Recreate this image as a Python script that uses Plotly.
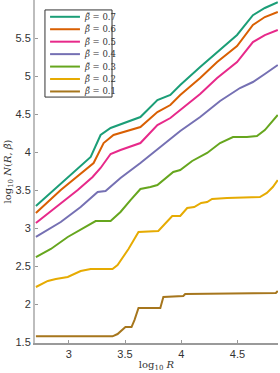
import plotly.graph_objects as go

# ---- data (log10 R , log10 N(R, beta)) ----
beta_labels = ["0.7", "0.6", "0.5", "0.4", "0.3", "0.2", "0.1"]
colors = ["#1b9e77", "#d95f02", "#e7298a", "#7570b3", "#66a61e", "#e6ab02", "#a6761d"]

x_b07 = [2.708, 2.867, 3.018, 3.195, 3.283, 3.372, 3.637, 3.788, 3.903, 3.991, 4.168, 4.319, 4.496, 4.637, 4.743, 4.858]
y_b07 = [3.289, 3.500, 3.697, 3.934, 4.224, 4.316, 4.460, 4.684, 4.750, 4.882, 5.118, 5.316, 5.540, 5.800, 5.895, 5.970]

x_b06 = [2.708, 2.929, 3.221, 3.310, 3.398, 3.637, 3.788, 3.903, 3.991, 4.168, 4.319, 4.496, 4.637, 4.743, 4.858]
y_b06 = [3.197, 3.500, 3.855, 4.118, 4.224, 4.329, 4.526, 4.618, 4.750, 4.974, 5.184, 5.395, 5.671, 5.776, 5.842]

x_b05 = [2.708, 3.080, 3.212, 3.283, 3.372, 3.460, 3.637, 3.788, 3.903, 3.991, 4.168, 4.319, 4.496, 4.637, 4.743, 4.858]
y_b05 = [3.066, 3.500, 3.671, 3.790, 3.974, 4.026, 4.118, 4.355, 4.447, 4.553, 4.763, 4.974, 5.184, 5.447, 5.539, 5.605]

x_b04 = [2.708, 2.929, 3.106, 3.257, 3.327, 3.460, 3.637, 3.814, 3.991, 4.168, 4.345, 4.522, 4.637, 4.743, 4.858]
y_b04 = [2.882, 3.079, 3.276, 3.474, 3.487, 3.658, 3.855, 4.066, 4.276, 4.461, 4.671, 4.842, 4.921, 5.026, 5.145]

x_b03 = [2.708, 2.841, 2.991, 3.150, 3.239, 3.372, 3.460, 3.549, 3.637, 3.726, 3.788, 3.929, 3.991, 4.097,
         4.168, 4.230, 4.345, 4.460, 4.584, 4.673, 4.743, 4.858]
y_b03 = [2.618, 2.724, 2.882, 3.013, 3.092, 3.092, 3.211, 3.368, 3.513, 3.539, 3.566, 3.737, 3.763, 3.882,
         3.934, 3.987, 4.118, 4.197, 4.197, 4.211, 4.289, 4.487]

x_b02 = [2.708, 2.814, 2.885, 2.991, 3.106, 3.195, 3.389, 3.434, 3.531, 3.620, 3.796, 3.858, 3.920, 3.991,
         4.053, 4.115, 4.177, 4.230, 4.274, 4.407, 4.699, 4.761, 4.814, 4.858]
y_b02 = [2.224, 2.303, 2.329, 2.355, 2.434, 2.461, 2.461, 2.513, 2.724, 2.947, 2.961, 3.066, 3.158, 3.158,
         3.263, 3.276, 3.329, 3.342, 3.382, 3.395, 3.408, 3.461, 3.539, 3.632]

x_b01 = [2.708, 3.389, 3.434, 3.478, 3.504, 3.558, 3.584, 3.620, 3.814, 3.841, 4.018, 4.035, 4.761, 4.841, 4.858]
y_b01 = [1.575, 1.575, 1.605, 1.658, 1.697, 1.697, 1.789, 1.947, 1.947, 2.092, 2.105, 2.132, 2.145, 2.145, 2.171]

xs = [x_b07, x_b06, x_b05, x_b04, x_b03, x_b02, x_b01]
ys = [y_b07, y_b06, y_b05, y_b04, y_b03, y_b02, y_b01]

x_ticks = [3, 3.5, 4, 4.5]
y_ticks = [1.5, 2, 2.5, 3, 3.5, 4, 4.5, 5, 5.5]

SERIF = "DejaVu Serif"
SANS = "Liberation Sans"
BETA = "<i>β̃</i>"

fig = go.Figure()
for lab, col, x, y in zip(beta_labels, colors, xs, ys):
    fig.add_trace(go.Scatter(x=x, y=y, mode="lines", name=f"β̃ = {lab}",
                             line=dict(color=col, width=2), showlegend=False))

# ---- legend drawn in paper coordinates (compact, MATLAB-like) ----
lg_left, lg_right, lg_top, lg_bottom = 0.041, 0.317, 0.971, 0.717
fig.add_shape(type="rect", xref="paper", yref="paper",
              x0=lg_left, x1=lg_right, y0=lg_bottom, y1=lg_top,
              line=dict(color="#333333", width=1), fillcolor="white", layer="above")
step = (lg_top - lg_bottom) / len(beta_labels)
for i, (lab, col) in enumerate(zip(beta_labels, colors)):
    yy = lg_top - step * (i + 0.55)
    fig.add_shape(type="line", xref="paper", yref="paper",
                  x0=0.062, x1=0.185, y0=yy, y1=yy,
                  line=dict(color=col, width=2), layer="above")
    fig.add_annotation(xref="paper", yref="paper", x=0.192, y=yy,
                       text=f"{BETA} = {lab}", showarrow=False,
                       xanchor="left", yanchor="middle",
                       font=dict(family=SERIF, size=8.5, color="#333333"))

axis_common = dict(showgrid=False, zeroline=False, ticks="inside", ticklen=3,
                   tickcolor="#999999", showline=True, mirror=False,
                   tickfont=dict(family=SANS, size=11, color="#333333"))

fig.update_layout(
    width=280, height=373,
    margin=dict(l=35, r=2, t=0, b=30),
    plot_bgcolor="white", paper_bgcolor="white",
    xaxis=dict(range=[2.7, 4.86], tickvals=x_ticks, ticktext=[f"{v:g}" for v in x_ticks],
               linecolor="#9a9a9a", linewidth=1.5,
               title=dict(text="log<sub>10</sub> <i>R</i>", standoff=2,
                          font=dict(family=SERIF, size=10, color="#333333")),
               **axis_common),
    yaxis=dict(range=[1.487, 6.0], tickvals=y_ticks, ticktext=[f"{v:g}" for v in y_ticks],
               linecolor="#bdbdbd", linewidth=2,
               title=dict(text=f"log<sub>10</sub> <i>N</i>(<i>R</i>, {BETA})", standoff=2,
                          font=dict(family=SERIF, size=10, color="#333333")),
               **axis_common),
)

fig.write_html("out.html", config={"displayModeBar": False},
               post_script="document.body.style.margin='0';document.body.style.overflow='hidden';")
